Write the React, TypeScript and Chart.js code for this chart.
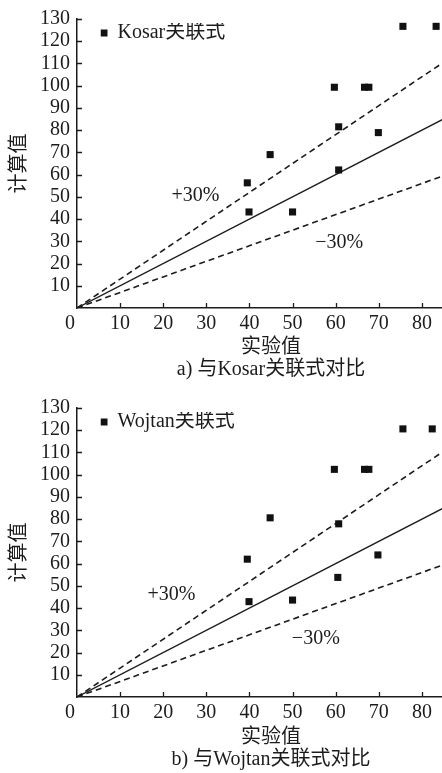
import React, { useEffect, useRef } from 'react';
import { Chart, registerables } from 'chart.js';

Chart.register(...registerables);

// ---------- data ----------
const xTickValues = [0, 10, 20, 30, 40, 50, 60, 70, 80];
const yTickValues = [10, 20, 30, 40, 50, 60, 70, 80, 90, 100, 110, 120, 130];
const xMin = 0;
const xMax = 90;
const yMin = 0;
const yMax = 130;

const kosarExp = [75.6, 83.3, 59.7, 66.7, 67.7, 60.7, 69.9, 44.8, 39.5, 60.7, 39.9, 50.0];
const kosarCalc = [126.7, 126.7, 99.3, 99.3, 99.3, 81.5, 78.9, 69.0, 56.3, 62.1, 43.2, 43.2];

const wojtanExp = [75.6, 82.4, 59.7, 66.7, 67.7, 44.8, 60.7, 69.8, 39.5, 60.5, 39.9, 50.0];
const wojtanCalc = [120.6, 120.6, 102.4, 102.4, 102.4, 80.6, 77.9, 63.9, 62.0, 53.8, 42.9, 43.6];

const refX = [0, 90];
const equalY = [0, 90];
const plus30Y = [0, 117];
const minus30Y = [0, 63];

const yTitle = '计算值';
const xTitle = '实验值';
const plusLabel = '+30%';
const minusLabel = '−30%';

const panels = [
  {
    legend: 'Kosar关联式',
    caption: 'a) 与Kosar关联式对比',
    exp: kosarExp,
    calc: kosarCalc,
    plusAt: [27.5, 50.5],
    minusAt: [60.8, 29.4],
  },
  {
    legend: 'Wojtan关联式',
    caption: 'b) 与Wojtan关联式对比',
    exp: wojtanExp,
    calc: wojtanCalc,
    plusAt: [21.9, 46.2],
    minusAt: [55.4, 26.0],
  },
];

// ---------- style ----------
const FONT = "'Liberation Serif', 'Noto Sans CJK SC', serif";
const INK = '#1c1c1c';
const FS = 20;
const CANVAS_W = 470; // the original figure is wider; the page crops it at 442

const toPoints = (xs: number[], ys: number[]) => xs.map((x, i) => ({ x, y: ys[i] }));

const decorPlugin = {
  id: 'decor',
  afterLayout(chart: any) {
    const lg = chart.legend;
    const ca = chart.chartArea;
    if (lg && ca) {
      lg.left = ca.left + 23.5;
      lg.top = ca.top + 4;
    }
  },
  afterDraw(chart: any, _args: any, opts: any) {
    const { ctx, chartArea } = chart;
    const x = chart.scales.x;
    const y = chart.scales.y;
    ctx.save();
    ctx.strokeStyle = INK;
    ctx.lineWidth = 1.3;
    ctx.beginPath();
    for (const v of yTickValues) {
      const py = Math.round(y.getPixelForValue(v)) + 0.5;
      ctx.moveTo(chartArea.left, py);
      ctx.lineTo(chartArea.left + 5, py);
    }
    for (const v of xTickValues) {
      if (v === 0) continue;
      const px = Math.round(x.getPixelForValue(v)) + 0.5;
      ctx.moveTo(px, chartArea.bottom);
      ctx.lineTo(px, chartArea.bottom - 5);
    }
    ctx.stroke();
    ctx.fillStyle = INK;
    ctx.font = `${FS}px ${FONT}`;
    ctx.textAlign = 'center';
    ctx.textBaseline = 'middle';
    ctx.fillText('0', x.getPixelForValue(0) - 7, chartArea.bottom + 4 + FS * 0.6);
    ctx.fillText(plusLabel, x.getPixelForValue(opts.plusAt[0]), y.getPixelForValue(opts.plusAt[1]));
    ctx.fillText(minusLabel, x.getPixelForValue(opts.minusAt[0]), y.getPixelForValue(opts.minusAt[1]));
    ctx.restore();
  },
};

function Panel({ panel, top, height, axisH, capPad }: { panel: any; top: number; height: number; axisH: number; capPad: number }) {
  const ref = useRef<HTMLCanvasElement>(null);
  useEffect(() => {
    if (!ref.current) return;
    Chart.defaults.font.family = FONT;
    Chart.defaults.color = INK;
    const lineDs = (ys: number[], dash: number[], w: number) => ({
      type: 'scatter' as const,
      label: '',
      data: toPoints(refX, ys),
      showLine: true,
      borderColor: INK,
      borderWidth: w,
      borderDash: dash,
      pointRadius: 0,
      fill: false,
    });
    const chart = new Chart(ref.current, {
      type: 'scatter',
      data: {
        datasets: [
          {
            label: panel.legend,
            data: toPoints(panel.exp, panel.calc),
            pointStyle: 'rect',
            pointRadius: 5,
            pointBackgroundColor: '#111',
            pointBorderColor: '#111',
            pointBorderWidth: 0,
            backgroundColor: '#111',
            borderColor: '#111',
          },
          lineDs(equalY, [], 1.3),
          lineDs(plus30Y, [6, 4], 1.6),
          lineDs(minus30Y, [6, 4], 1.6),
        ],
      },
      plugins: [decorPlugin],
      options: {
        responsive: false,
        animation: false,
        layout: { padding: { left: 0, right: 0, top: 12, bottom: 0 } },
        scales: {
          x: {
            type: 'linear',
            min: xMin,
            max: xMax,
            afterBuildTicks: (s: any) => {
              s.ticks = xTickValues.map((v) => ({ value: v }));
            },
            afterFit: (s: any) => {
              s.height = axisH;
            },
            grid: { display: false, drawTicks: false },
            border: { display: true, color: INK, width: 1.5 },
            ticks: {
              padding: 4,
              color: INK,
              font: { size: FS, family: FONT },
              maxRotation: 0,
              autoSkip: false,
              callback: (v: any) => (v === 0 ? '' : String(v)),
            },
            title: {
              display: true,
              text: [xTitle, panel.caption],
              color: INK,
              font: { size: FS, family: FONT, lineHeight: 1.1 },
              padding: { top: 0, bottom: capPad },
            },
          },
          y: {
            type: 'linear',
            min: yMin,
            max: yMax,
            afterBuildTicks: (s: any) => {
              s.ticks = yTickValues.map((v) => ({ value: v }));
            },
            afterFit: (s: any) => {
              s.width = 77;
            },
            grid: { display: false, drawTicks: false },
            border: { display: true, color: INK, width: 1.5 },
            ticks: {
              padding: 7,
              color: INK,
              font: { size: FS, family: FONT },
              autoSkip: false,
            },
            title: {
              display: true,
              text: yTitle,
              color: INK,
              font: { size: FS, family: FONT, lineHeight: 1.2 },
              padding: { top: 8, bottom: 0 },
            },
          },
        },
        plugins: {
          decor: { plusAt: panel.plusAt, minusAt: panel.minusAt },
          tooltip: { enabled: false },
          title: { display: false },
          legend: {
            display: true,
            position: 'chartArea',
            align: 'start',
            labels: {
              usePointStyle: true,
              pointStyle: 'rect',
              boxWidth: 7,
              boxHeight: 7,
              padding: 0,
              color: INK,
              font: { size: FS, family: FONT },
              filter: (item: any) => item.datasetIndex === 0,
            },
          },
        },
      } as any,
    } as any);
    return () => chart.destroy();
  }, [panel, axisH, capPad]);
  return (
    <canvas
      ref={ref}
      width={CANVAS_W}
      height={height}
      style={{ position: 'absolute', left: 0, top, width: CANVAS_W, height }}
    />
  );
}

export default function App() {
  return (
    <div style={{ position: 'relative', width: 442, height: 773, overflow: 'hidden', background: '#fff' }}>
      <style>{`html,body{margin:0;padding:0;background:#fff;overflow:hidden;}`}</style>
      <Panel panel={panels[0]} top={0} height={386} axisH={78} capPad={5} />
      <Panel panel={panels[1]} top={389} height={384} axisH={76} capPad={2} />
    </div>
  );
}
